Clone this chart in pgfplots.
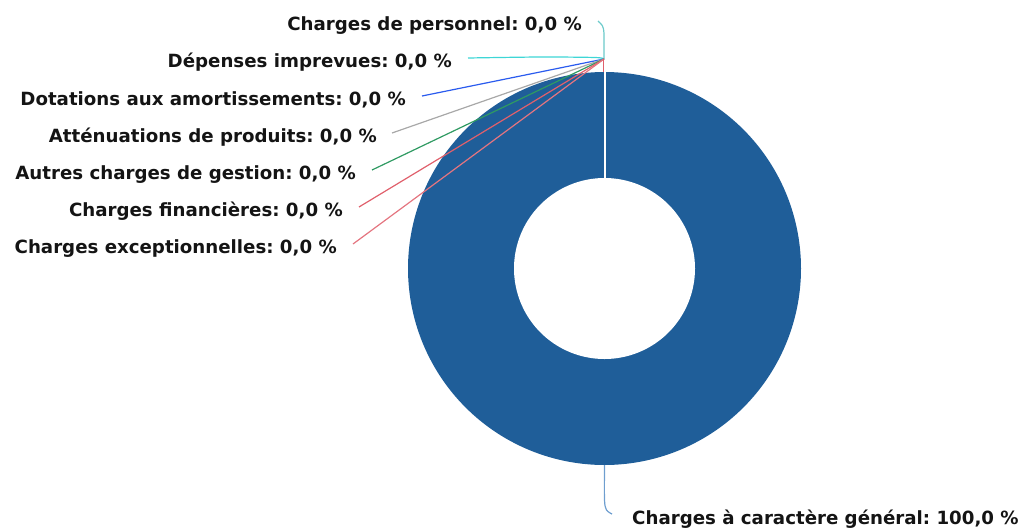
\documentclass[border=0pt]{standalone}
\usepackage{pgfplots}
\pgfplotsset{compat=1.18}
\usepackage{pgfplotstable}
\usepackage{fontspec}
\setmainfont{DejaVu Sans}
\frenchspacing
\definecolor{ringblue}{HTML}{1F5E99}
\definecolor{cPers}{HTML}{6CCACA}
\definecolor{cDep}{HTML}{3ED6D6}
\definecolor{cDot}{HTML}{2A5BEE}
\definecolor{cAtt}{HTML}{A8A8A8}
\definecolor{cAut}{HTML}{2F9A62}
\definecolor{cFin}{HTML}{E0606C}
\definecolor{cExc}{HTML}{E47580}
\definecolor{cGen}{HTML}{6E9ECF}
\definecolor{txt}{HTML}{141414}
\tikzset{lbl/.style={inner sep=0pt, text=txt, font=\bfseries\fontsize{18.2}{20}\selectfont}}
% share of each category in percent
\pgfplotstableread{
cat value
general 100.0
personnel 0.0
depenses 0.0
dotations 0.0
attenuations 0.0
autres 0.0
financieres 0.0
exceptionnelles 0.0
}\data
\pgfplotstablegetelem{0}{value}\of\data
\let\sliceval\pgfplotsretval
\begin{document}
\begin{tikzpicture}
\begin{axis}[
  scale only axis, width=1023pt, height=528pt,
  xmin=0, xmax=1023, ymin=0, ymax=528, y dir=reverse,
  hide axis, clip=false,
]
\addplot[draw=none] coordinates {(0,0) (1023,528)};
% slice: Charges a caractere general (100 %)
\addplot[fill=ringblue, draw=none, domain=0:{3.6*\sliceval}, samples=241, variable=\t]
  ({604.5+196.5*sin(\t)}, {268.5-196.5*cos(\t)}) -- cycle;
\addplot[fill=white, draw=none, domain=0:360, samples=181, variable=\t]
  ({604.5+90.5*sin(\t)}, {268.5-90.5*cos(\t)}) -- cycle;
\addplot[draw=white, line width=2pt] coordinates {(604.5,71) (604.5,178.5)};
% connectors
\addplot[cPers, line width=1.2pt, smooth] coordinates {(598,21) (602.5,26) (604,34) (604,59)};
\addplot[cDep, line width=1.2pt, smooth] coordinates {(468,58) (540,57) (595,57.5) (604,59)};
\addplot[cDot, line width=1.2pt] coordinates {(422,96) (604,59)};
\addplot[cAtt, line width=1.2pt] coordinates {(392,133) (604,59)};
\addplot[cAut, line width=1.2pt] coordinates {(372,170) (604,59)};
\addplot[cFin, line width=1.2pt] coordinates {(359,207) (604,59)};
\addplot[cExc, line width=1.2pt] coordinates {(353,244) (604,59)};
\addplot[cFin, line width=1.6pt] coordinates {(603.5,59) (603.5,72)};
\addplot[cGen, line width=1.2pt, smooth] coordinates {(604.5,465) (604.5,500) (606.5,510) (612,514)};
% labels
\node[lbl, anchor=base east] at (axis cs:582,30) {Charges de personnel: 0,0 \%};
\node[lbl, anchor=base east] at (axis cs:452,67) {Dépenses imprevues: 0,0 \%};
\node[lbl, anchor=base east] at (axis cs:406,105) {Dotations aux amortissements: 0,0 \%};
\node[lbl, anchor=base east] at (axis cs:377,142) {Atténuations de produits: 0,0 \%};
\node[lbl, anchor=base east] at (axis cs:356,179) {Autres charges de gestion: 0,0 \%};
\node[lbl, anchor=base east] at (axis cs:343,216) {Charges financières: 0,0 \%};
\node[lbl, anchor=base east] at (axis cs:337,253) {Charges exceptionnelles: 0,0 \%};
\node[lbl, anchor=base west] at (axis cs:632,524) {Charges à caractère général: 100,0 \%};
\end{axis}
\end{tikzpicture}
\end{document}
